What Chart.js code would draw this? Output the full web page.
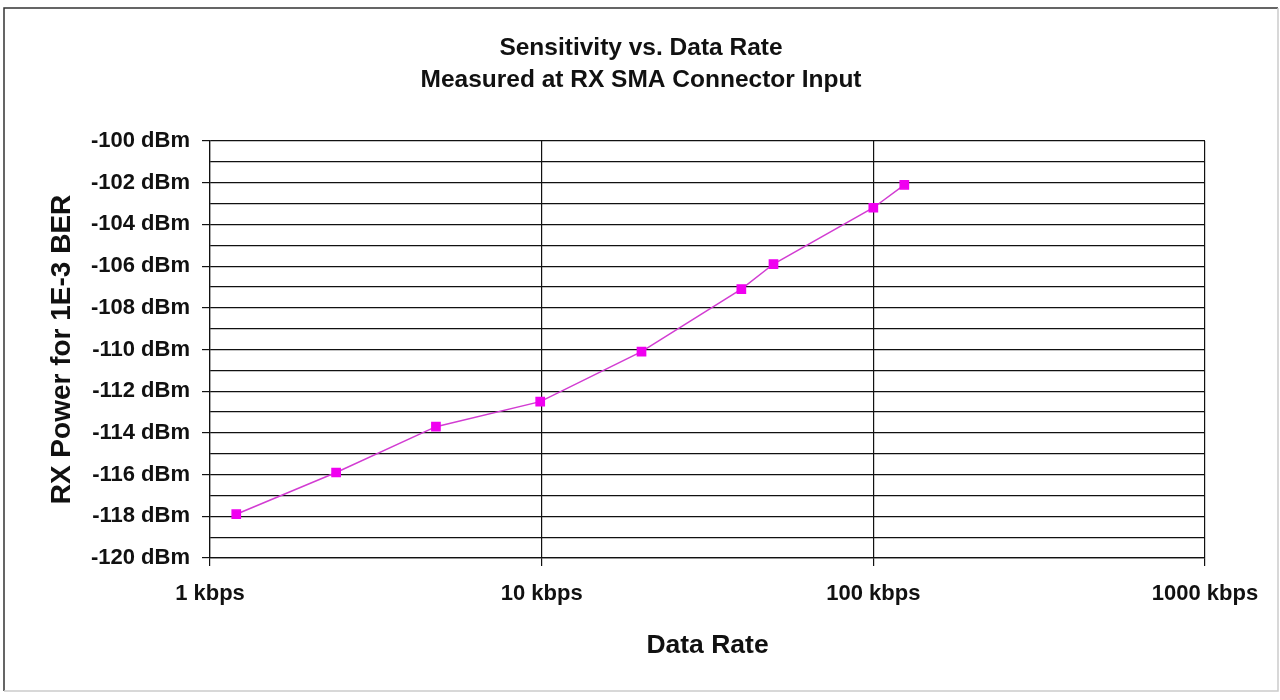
<!DOCTYPE html>
<html lang="en">
<head>
    <meta charset="UTF-8">
    <title>Sensitivity vs. Data Rate</title>
    <script src="https://cdn.jsdelivr.net/npm/chart.js"></script>
    <style>
        html, body { margin: 0; padding: 0; background: #fff; }
    </style>
</head>
<body>
<canvas id="sensChart" width="1280" height="700"></canvas>

<script>
    // values
    const dataRates = [1.2, 2.4, 4.8, 9.9, 20, 40, 50, 100, 124];          // kbps
    const sensitivity = [-117.9, -115.9, -113.7, -112.5, -110.1, -107.1, -105.9, -103.2, -102.1]; // dBm
    const xTickValues = [1, 10, 100, 1000];
    const titleLines = ['Sensitivity vs. Data Rate', 'Measured at RX SMA Connector Input'];
    const xTitle = 'Data Rate';
    const yTitle = 'RX Power for 1E-3 BER';

    const FONT = "'Liberation Sans', Arial, sans-serif";

    // outer frame like the spreadsheet chart border
    const framePlugin = {
        id: 'frame',
        beforeDraw(chart) {
            const c = chart.ctx;
            c.save();
            c.fillStyle = '#fff';
            c.fillRect(0, 0, chart.width, chart.height);
            c.lineWidth = 1.5;
            c.strokeStyle = '#333';
            c.beginPath();
            c.moveTo(4, 691);
            c.lineTo(4, 8);
            c.lineTo(1278, 8);
            c.stroke();
            c.strokeStyle = '#ccc';
            c.beginPath();
            c.moveTo(1278, 8);
            c.lineTo(1278, 691);
            c.lineTo(4, 691);
            c.stroke();
            c.restore();
        }
    };

    const ctx = document.getElementById('sensChart').getContext('2d');

    const chart = new Chart(ctx, {
        type: 'scatter',
        data: {
            datasets: [{
                label: 'Sensitivity',
                data: dataRates.map((x, i) => ({x: x, y: sensitivity[i]})),
                showLine: true,
                borderColor: '#d23cd2',
                borderWidth: 1.5,
                backgroundColor: '#f000f0',
                pointBackgroundColor: '#f000f0',
                pointBorderColor: '#f000f0',
                pointStyle: 'rect',
                pointRadius: 5.8,
                tension: 0
            }]
        },
        options: {
            responsive: false,
            animation: false,
            layout: {
                padding: {left: 12, right: 10, top: 0, bottom: 12}
            },
            plugins: {
                legend: {display: false},
                tooltip: {enabled: false},
                title: {
                    display: true,
                    text: titleLines,
                    color: '#111',
                    font: {family: FONT, size: 24.5, weight: 'bold', lineHeight: 1.28},
                    padding: {top: 33, bottom: 45.3}
                }
            },
            scales: {
                x: {
                    type: 'logarithmic',
                    min: 1,
                    max: 1000,
                    afterBuildTicks: axis => {
                        axis.ticks = xTickValues.map(v => ({value: v}));
                    },
                    afterFit: s => { s.height = 130; },
                    grid: {
                        color: '#111',
                        lineWidth: 1.2,
                        tickLength: 8,
                        tickColor: '#111'
                    },
                    border: {display: true, color: '#111', width: 1.2},
                    ticks: {
                        autoSkip: false,
                        maxRotation: 0,
                        padding: 15,
                        color: '#111',
                        font: {family: FONT, size: 22, weight: 'bold'},
                        callback: v => v + ' kbps'
                    },
                    title: {
                        display: true,
                        text: xTitle,
                        color: '#111',
                        font: {family: FONT, size: 26.5, weight: 'bold', lineHeight: 1.2},
                        padding: {top: 0, bottom: 26}
                    }
                },
                y: {
                    type: 'linear',
                    min: -120,
                    max: -100,
                    afterFit: s => { s.width = 198; },
                    grid: {
                        color: '#111',
                        lineWidth: 1.2,
                        tickLength: 8,
                        tickColor: c => (c.tick && c.tick.value % 2 === 0) ? '#111' : 'rgba(0,0,0,0)'
                    },
                    border: {display: true, color: '#111', width: 1.2},
                    ticks: {
                        stepSize: 1,
                        autoSkip: false,
                        padding: 12,
                        color: '#111',
                        font: {family: FONT, size: 22, weight: 'bold'},
                        callback: v => (v % 2 === 0) ? v + ' dBm' : ''
                    },
                    title: {
                        display: true,
                        text: yTitle,
                        color: '#111',
                        font: {family: FONT, size: 28, weight: 'bold', lineHeight: 1.2},
                        padding: {top: 33, bottom: 0}
                    }
                },
                yRight: {
                    type: 'linear',
                    position: 'right',
                    display: true,
                    min: -120,
                    max: -100,
                    afterFit: s => { s.width = 65; },
                    grid: {display: false},
                    border: {display: false},
                    ticks: {display: false}
                }
            }
        },
        plugins: [framePlugin]
    });
</script>
</body>
</html>
